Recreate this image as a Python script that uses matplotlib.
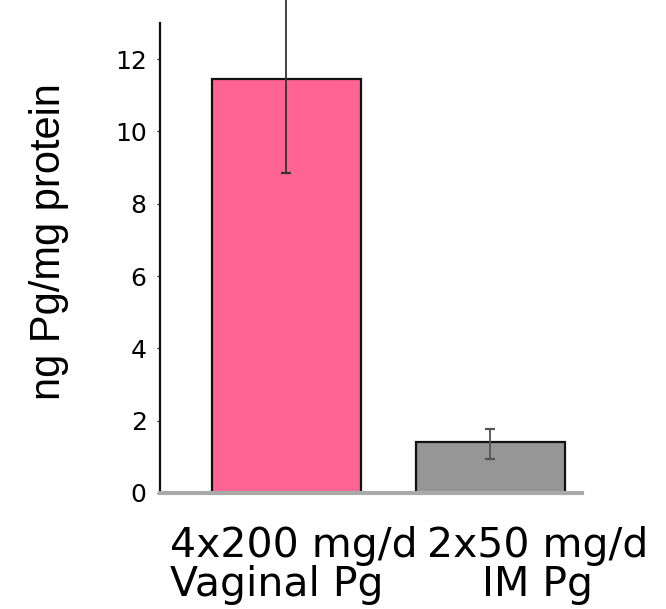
import matplotlib
matplotlib.use("Agg")
import matplotlib.pyplot as plt
from matplotlib.transforms import ScaledTranslation

categories = ["4x200 mg/d\nVaginal Pg", "2x50 mg/d\nIM Pg"]
values = [11.44, 1.41]
err_lower = [2.58, 0.48]
err_upper = [2.58, 0.37]
yticks = [0, 2, 4, 6, 8, 10, 12]
bar_colors = ["#FF6494", "#969696"]
err_colors = ["#333333", "#555555"]

fig = plt.figure(figsize=(6.66, 6.09), dpi=100)
ax = fig.add_axes([0.240, 0.1905, 0.634, 0.7717])

x = list(range(len(categories)))
ax.bar(x, values, width=0.73, color=bar_colors, edgecolor="#111111", linewidth=1.6, zorder=2)
for i in x:
    ax.errorbar([i], [values[i]], yerr=[[err_lower[i]], [err_upper[i]]], fmt="none",
                ecolor=err_colors[i], elinewidth=1.3, capsize=3.5, capthick=1.6,
                zorder=3, clip_on=False)

ax.set_xlim(-0.62, 1.45)
ax.set_ylim(0, 13)
ax.set_yticks(yticks)
ax.set_yticklabels([str(t) for t in yticks], fontsize=18, family="DejaVu Sans")
ax.tick_params(axis="y", length=2.5, width=1, pad=7, color="#333333")
ax.tick_params(axis="x", length=0, pad=24)
ax.set_xticks(x)
ax.set_xticklabels(categories, fontsize=29.5, family="DejaVu Sans", linespacing=0.95)
labels = ax.get_xticklabels()
labels[0].set_multialignment("left")
labels[0].set_transform(labels[0].get_transform() + ScaledTranslation(7.5/100, 0, fig.dpi_scale_trans))
labels[1].set_multialignment("center")
labels[1].set_transform(labels[1].get_transform() + ScaledTranslation(47.5/100, 0, fig.dpi_scale_trans))

for s in ["top", "right"]:
    ax.spines[s].set_visible(False)
ax.spines["left"].set_color("#111111")
ax.spines["left"].set_linewidth(1.6)
ax.spines["bottom"].set_color("#aaaaaa")
ax.spines["bottom"].set_linewidth(3)

ax.set_ylabel("ng Pg/mg protein", fontsize=30, family="Liberation Sans")
ax.yaxis.set_label_coords(-0.215, 0.535)

fig.savefig("out.png", dpi=100)
